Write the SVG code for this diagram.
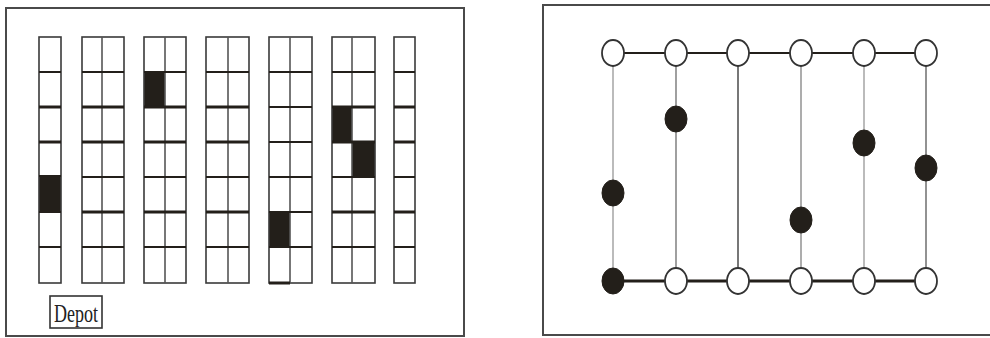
<svg xmlns="http://www.w3.org/2000/svg" width="990" height="338" viewBox="0 0 990 338">
<style>
.panel{fill:#fff;stroke:#4a4a4a;stroke-width:2}
.aisle{fill:none;stroke:#3a3a3a;stroke-width:1.6}
.mid{stroke:#555;stroke-width:1.6}
.rth{stroke:#231f1a;stroke-width:3}
.rtn{stroke:#231f1a;stroke-width:2}
.pick{fill:#231f1a}
.edge{stroke:#231f1a;fill:none}
.vl{stroke-width:1.6}
.open{fill:#fff;stroke:#333;stroke-width:1.8}
.full{fill:#231f1a;stroke:#231f1a;stroke-width:1}
.lbl{font-family:"Liberation Serif","Times New Roman",serif;font-size:26px;fill:#222}
</style>
<rect class="panel" x="6" y="8" width="458" height="328"/>
<rect class="panel" x="543" y="5" width="452" height="330"/>
<g id="warehouse">
 <g id="aisle1">
  <rect class="pick" x="39" y="176" width="22" height="36"/>
  <rect class="aisle" x="39" y="37" width="22" height="246"/>
  <line class="rtn" x1="39" y1="72" x2="61" y2="72"/><line class="rth" x1="39" y1="107" x2="61" y2="107"/><line class="rth" x1="39" y1="142" x2="61" y2="142"/><line class="rtn" x1="39" y1="176" x2="61" y2="176"/><line class="rtn" x1="39" y1="212" x2="61" y2="212"/><line class="rtn" x1="39" y1="247" x2="61" y2="247"/>
 </g>
 <g id="aisle2">
  <rect class="aisle" x="82" y="37" width="42" height="246"/>
  <line class="mid" x1="102" y1="37" x2="102" y2="283"/>
  <line class="rtn" x1="82" y1="72" x2="124" y2="72"/><line class="rth" x1="82" y1="107" x2="124" y2="107"/><line class="rth" x1="82" y1="142" x2="124" y2="142"/><line class="rtn" x1="82" y1="177" x2="124" y2="177"/><line class="rth" x1="82" y1="212" x2="124" y2="212"/><line class="rtn" x1="82" y1="247" x2="124" y2="247"/>
 </g>
 <g id="aisle3">
  <rect class="pick" x="144" y="72" width="21" height="35"/>
  <rect class="aisle" x="144" y="37" width="42" height="246"/>
  <line class="mid" x1="165" y1="37" x2="165" y2="283"/>
  <line class="rtn" x1="144" y1="72" x2="186" y2="72"/><line class="rth" x1="144" y1="107" x2="186" y2="107"/><line class="rth" x1="144" y1="142" x2="186" y2="142"/><line class="rtn" x1="144" y1="177" x2="186" y2="177"/><line class="rth" x1="144" y1="212" x2="186" y2="212"/><line class="rtn" x1="144" y1="247" x2="186" y2="247"/>
 </g>
 <g id="aisle4">
  <rect class="aisle" x="206" y="37" width="43" height="246"/>
  <line class="mid" x1="228" y1="37" x2="228" y2="283"/>
  <line class="rtn" x1="206" y1="72" x2="249" y2="72"/><line class="rth" x1="206" y1="107" x2="249" y2="107"/><line class="rth" x1="206" y1="142" x2="249" y2="142"/><line class="rtn" x1="206" y1="177" x2="249" y2="177"/><line class="rth" x1="206" y1="212" x2="249" y2="212"/><line class="rtn" x1="206" y1="247" x2="249" y2="247"/>
 </g>
 <g id="aisle5">
  <rect class="pick" x="269" y="212" width="21" height="35"/>
  <rect class="aisle" x="269" y="37" width="43" height="246"/>
  <line class="mid" x1="290" y1="37" x2="290" y2="283"/>
  <line class="rtn" x1="269" y1="72" x2="312" y2="72"/><line class="rtn" x1="269" y1="107" x2="312" y2="107"/><line class="rtn" x1="269" y1="142" x2="312" y2="142"/><line class="rtn" x1="269" y1="177" x2="312" y2="177"/><line class="rtn" x1="269" y1="212" x2="312" y2="212"/><line class="rtn" x1="269" y1="247" x2="312" y2="247"/><line class="rth" x1="269" y1="283" x2="290" y2="283"/>
 </g>
 <g id="aisle6">
  <rect class="pick" x="332" y="107" width="20" height="35"/>
  <rect class="pick" x="352" y="142" width="23" height="35"/>
  <rect class="aisle" x="332" y="37" width="43" height="246"/>
  <line class="mid" x1="352" y1="37" x2="352" y2="283"/>
  <line class="rtn" x1="332" y1="72" x2="375" y2="72"/><line class="rth" x1="332" y1="107" x2="375" y2="107"/><line class="rth" x1="332" y1="142" x2="375" y2="142"/><line class="rtn" x1="332" y1="177" x2="375" y2="177"/><line class="rth" x1="332" y1="212" x2="375" y2="212"/><line class="rtn" x1="332" y1="247" x2="375" y2="247"/>
 </g>
 <g id="aisle7">
  <rect class="aisle" x="394" y="37" width="21" height="246"/>
  <line class="rtn" x1="394" y1="72" x2="415" y2="72"/><line class="rth" x1="394" y1="107" x2="415" y2="107"/><line class="rth" x1="394" y1="142" x2="415" y2="142"/><line class="rtn" x1="394" y1="177" x2="415" y2="177"/><line class="rth" x1="394" y1="212" x2="415" y2="212"/><line class="rtn" x1="394" y1="247" x2="415" y2="247"/>
 </g>
 <g id="depot">
  <rect x="50" y="296" width="52" height="32" fill="#fff" stroke="#333" stroke-width="1.6"/>
  <text class="lbl" x="54" y="322" textLength="44" lengthAdjust="spacingAndGlyphs">Depot</text>
 </g>
</g>
<g id="connectors">
 <line class="edge" x1="613" y1="53" x2="926" y2="53" stroke-width="2"/>
 <line class="edge" x1="613" y1="281" x2="926" y2="281" stroke-width="3"/>
 <line class="vl" x1="613" y1="53" x2="613" y2="281" stroke="#aaa"/>
 <line class="vl" x1="676" y1="53" x2="676" y2="281" stroke="#888"/>
 <line class="vl" x1="738" y1="53" x2="738" y2="281" stroke="#555"/>
 <line class="vl" x1="801" y1="53" x2="801" y2="281" stroke="#999"/>
 <line class="vl" x1="864" y1="53" x2="864" y2="281" stroke="#aaa"/>
 <line class="vl" x1="926" y1="53" x2="926" y2="281" stroke="#777"/>
</g>
<g id="nodes">
 <g id="t1"><ellipse class="open" cx="613" cy="53" rx="11" ry="13"/></g>
 <g id="t2"><ellipse class="open" cx="676" cy="53" rx="11" ry="13"/></g>
 <g id="t3"><ellipse class="open" cx="738" cy="53" rx="11" ry="13"/></g>
 <g id="t4"><ellipse class="open" cx="801" cy="53" rx="11" ry="13"/></g>
 <g id="t5"><ellipse class="open" cx="864" cy="53" rx="11" ry="13"/></g>
 <g id="t6"><ellipse class="open" cx="926" cy="53" rx="11" ry="13"/></g>
 <g id="b1"><ellipse class="full" cx="613" cy="281" rx="11" ry="13"/></g>
 <g id="b2"><ellipse class="open" cx="676" cy="281" rx="11" ry="13"/></g>
 <g id="b3"><ellipse class="open" cx="738" cy="281" rx="11" ry="13"/></g>
 <g id="b4"><ellipse class="open" cx="801" cy="281" rx="11" ry="13"/></g>
 <g id="b5"><ellipse class="open" cx="864" cy="281" rx="11" ry="13"/></g>
 <g id="b6"><ellipse class="open" cx="926" cy="281" rx="11" ry="13"/></g>
 <g id="p1"><ellipse class="full" cx="613" cy="193" rx="11" ry="13"/></g>
 <g id="p2"><ellipse class="full" cx="676" cy="119" rx="11" ry="13"/></g>
 <g id="p4"><ellipse class="full" cx="801" cy="220" rx="11" ry="13"/></g>
 <g id="p5"><ellipse class="full" cx="864" cy="143" rx="11" ry="13"/></g>
 <g id="p6"><ellipse class="full" cx="926" cy="168" rx="11" ry="13"/></g>
</g>
</svg>
